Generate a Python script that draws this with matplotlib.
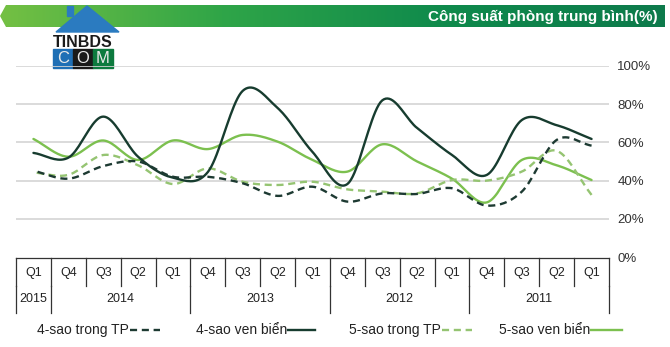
import matplotlib.pyplot as plt
import numpy as np
from matplotlib.patches import Polygon, Rectangle
from matplotlib.colors import LinearSegmentedColormap

plt.rcParams['font.family'] = ['Liberation Sans', 'DejaVu Sans']

# chronological order: 2011 Q1 ... 2015 Q1
quarters = ['Q1', 'Q2', 'Q3', 'Q4'] * 4 + ['Q1']
years = ['2011', '2012', '2013', '2014', '2015']
year_span = [4, 4, 4, 4, 1]

sao5_ven_bien = [40.3, 48, 50.8, 28.6, 41, 50, 59, 44.7, 50.8, 60.4, 63.9, 56.5, 61, 50.8, 61, 52.5, 61.8]
sao5_trong_tp = [32.5, 55.6, 44.7, 40, 40.3, 33.3, 34.2, 35.4, 39.4, 37.7, 39.4, 46.4, 38.2, 48, 53.4, 43, 44.3]
sao4_ven_bien = [61.8, 69, 71.7, 43, 53.4, 67.5, 82, 38.2, 55, 78, 87, 44.5, 41.5, 52.5, 73.5, 52, 54.5]
sao4_trong_tp = [58.3, 61.3, 34.2, 26.9, 36, 33, 33.3, 29, 36.8, 32, 38.6, 42, 42, 50, 47.6, 41, 45.2]

title = 'Công suất phòng trung bình(%)'


def smooth(y, n=20):
    # Catmull-Rom curve through the points
    y = np.asarray(y, float)
    x = np.arange(len(y), dtype=float)
    px = np.concatenate([[2 * x[0] - x[1]], x, [2 * x[-1] - x[-2]]])
    py = np.concatenate([[2 * y[0] - y[1]], y, [2 * y[-1] - y[-2]]])
    xs, ys = [], []
    t = np.linspace(0, 1, n, endpoint=False)
    for i in range(1, len(px) - 2):
        for p, out in ((px, xs), (py, ys)):
            p0, p1, p2, p3 = p[i - 1], p[i], p[i + 1], p[i + 2]
            out.append(0.5 * (2 * p1 + (-p0 + p2) * t + (2 * p0 - 5 * p1 + 4 * p2 - p3) * t ** 2
                              + (-p0 + 3 * p1 - 3 * p2 + p3) * t ** 3))
    xs.append([x[-1]])
    ys.append([y[-1]])
    return np.concatenate(xs), np.concatenate(ys)


W, H = 670, 347
fig = plt.figure(figsize=(W / 100, H / 100), dpi=100, facecolor='white')

# header banner
hdr = fig.add_axes([0, 0, 1, 1], zorder=0)
hdr.set_xlim(0, W)
hdr.set_ylim(H, 0)
hdr.axis('off')
grad = np.linspace(0, 1, 256).reshape(1, -1)
cmap = LinearSegmentedColormap.from_list('g', ['#74c043', '#2fa548', '#0f8a4c', '#0d7a4b'])
img = hdr.imshow(grad, cmap=cmap, extent=[0, 665, 27, 5], aspect='auto', zorder=1)
clip = Polygon([[6, 5], [665, 5], [665, 27], [6, 27], [0, 16]], closed=True, transform=hdr.transData)
img.set_clip_path(clip)
hdr.text(658, 16.5, title, color='white', fontsize=11, fontweight='bold', ha='right', va='center', zorder=3)

# logo
hdr.add_patch(Polygon([[56, 32], [87, 6], [119, 32]], closed=True, color='#2b7bc0', zorder=4))
hdr.add_patch(Rectangle((67, 6), 6, 10, color='#2b7bc0', zorder=4))
hdr.text(83, 42, 'TINBDS', fontsize=11.5, fontweight='bold', color='#1a1a1a', ha='center', va='center', zorder=4)
for i, (c, letter) in enumerate(zip(['#1f6fb5', '#1a1a1a', '#0d7a3e'], 'COM')):
    hdr.add_patch(Rectangle((53 + i * 20, 49), 20, 19, color=c, zorder=4))
    hdr.text(63 + i * 20, 58.5, letter, fontsize=12, color='#e8e8e8', ha='center', va='center', zorder=5)

# main chart
L, R, T, B = 16, 609, 66, 257
ax = fig.add_axes([L / W, 1 - B / H, (R - L) / W, (B - T) / H], zorder=2)
ax.patch.set_alpha(0)
n = len(quarters)
ax.set_xlim(n - 0.5, -0.5)
ax.set_ylim(0, 100)
for v in [20, 40, 60, 80, 100]:
    ax.axhline(v, color='#d4d4d4', lw=1.2, zorder=1)
ax.set_yticks([0, 20, 40, 60, 80, 100])
ax.set_yticklabels(['0%', '20%', '40%', '60%', '80%', '100%'])
ax.yaxis.tick_right()
ax.tick_params(axis='y', length=0, pad=6, labelsize=9.5, labelcolor='#333333')
ax.set_xticks([])
for s in ax.spines.values():
    s.set_visible(False)

series = [
    (sao5_ven_bien, '5-sao ven biển', '#7cc04f', '-'),
    (sao5_trong_tp, '5-sao trong TP', '#95c472', (0, (3, 2))),
    (sao4_ven_bien, '4-sao ven biển', '#173c2f', '-'),
    (sao4_trong_tp, '4-sao trong TP', '#1d3a32', (0, (3, 2))),
]
for vals, name, col, ls in series:
    xs, ys = smooth(vals)
    ax.plot(xs, ys, color=col, lw=1.7, ls=ls, zorder=3, solid_capstyle='round')

# table under the chart
TT, TB = 258, 313
tax = fig.add_axes([L / W, 1 - TB / H, (R - L) / W, (TB - TT) / H], zorder=2)
tax.set_xlim(n - 0.5, -0.5)
tax.set_ylim(2, 0)
tax.axis('off')
tax.plot([-0.5, n - 0.5], [0, 0], color='#333333', lw=0.9, clip_on=False)
for i in range(n + 1):
    tax.plot([i - 0.5, i - 0.5], [0, 1], color='#333333', lw=0.9, clip_on=False)
for i, q in enumerate(quarters):
    tax.text(i, 0.55, q, ha='center', va='center', fontsize=9, color='#222222')
start = 0
bounds = [0]
for y, span in zip(years, year_span):
    tax.text(start + (span - 1) / 2, 1.5, y, ha='center', va='center', fontsize=9, color='#222222')
    start += span
    bounds.append(start)
for b in bounds:
    tax.plot([b - 0.5, b - 0.5], [1, 2], color='#333333', lw=0.9, clip_on=False)

# legend drawn as in the picture: text then sample line
leg_y = 330
legend_pos = [(591, 622), (442, 472), (288, 315), (130, 160)]
for (vals, name, col, ls), (x0, x1) in zip(series, legend_pos):
    hdr.plot([x0, x1], [leg_y, leg_y], color=col, lw=1.7, ls=ls, zorder=3)
    hdr.text(x0 - 1, leg_y, name, ha='right', va='center', fontsize=10, color='#222222', zorder=3)

fig.savefig('out.png', dpi=100, facecolor='white')
